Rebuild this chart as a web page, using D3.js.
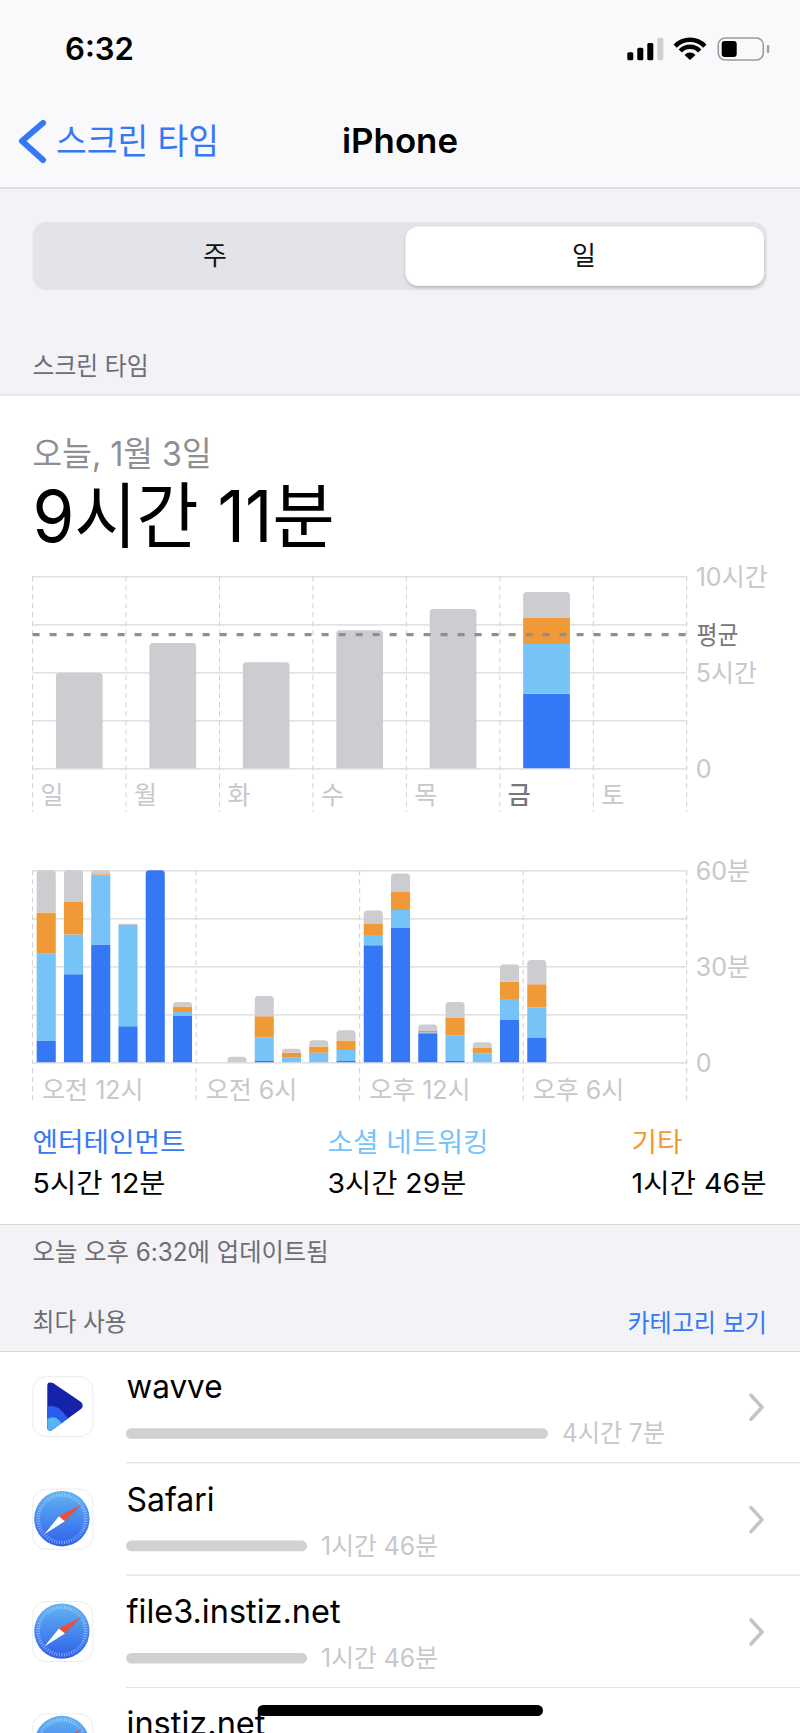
<!DOCTYPE html>
<html lang="ko">
<head>
<meta charset="utf-8">
<script src="https://cdn.jsdelivr.net/npm/d3@7"></script>
<style>
html,body{margin:0;padding:0;background:#fff;overflow:hidden}
svg{display:block}
text{font-family:Inter,"Noto Sans CJK KR",sans-serif}
.axis text{font-family:Inter,"Noto Sans CJK KR",sans-serif;font-size:25px;fill:#c7c7cc}
.axis .domain{display:none}
.axis line{stroke:#d9d9dc;stroke-width:1.2}
</style>
</head>
<body>
<script>
// 색
var blue="#3478f6",sky="#76c3f7",orange="#f09a37",gray="#cdcdd1";
var seriesKeys=["entertainment","social","other","rest"];
var seriesColors=[blue,sky,orange,gray];

// 요일별 (시간)
var days=["일","월","화","수","목","금","토"];
var dayEntertainment=[0,0,0,0,0,3.88,0];
var daySocial=[0,0,0,0,0,2.59,0];
var dayOther=[0,0,0,0,0,1.36,0];
var dayRest=[4.98,6.53,5.52,7.19,8.3,1.35,0];
var dayAverage=6.96;
var dayTicks=[0,2.5,5,7.5,10];
var dayTickLabels={0:"0",5:"5시간",10:"10시간"};

// 시간대별 (분)
var hourEntertainment=[6.8,27.5,36.8,11.25,60,14.6,0,0,0.4,0,0,0.4,36.6,42,9.06,0.4,0,13.2,7.6,0,0,0,0,0];
var hourSocial=[27.1,12.4,21.5,31.65,0,1.1,0,0,7.4,1.45,3,3.45,3.2,5.6,0.34,8,2.8,6.6,9.5,0,0,0,0,0];
var hourOther=[12.9,10.2,0.45,0,0,1.7,0,0,6.6,1.55,1.9,2.95,3.4,5.6,0.4,5.45,1.7,5.4,7.3,0,0,0,0,0];
var hourRest=[13.2,9.9,1.25,0.4,0,1.45,0,1.77,6.3,1.2,2,3.2,4.2,5.8,2,5,1.75,5.4,7.6,0,0,0,0,0];
var hourTicks=[0,15,30,45,60];
var hourTickLabels={0:"0",30:"30분",60:"60분"};
var hourLabels={0:"오전 12시",6:"오전 6시",12:"오후 12시",18:"오후 6시"};

// 범주 합계
var legendNames=["엔터테인먼트","소셜 네트워킹","기타"];
var legendTimes=["5시간 12분","3시간 29분","1시간 46분"];

// 최다 사용
var appNames=["wavve","Safari","file3.instiz.net","instiz.net"];
var appMinutes=[247,106,106,null];
var appTimes=["4시간 7분","1시간 46분","1시간 46분",""];

var w=800,h=1733;
var svg=d3.select("body").append("svg").attr("width",w).attr("height",h);

var label=function(x,y,t,size,color,opt){
	opt=opt||{};
	var n=svg.append("text").attr("x",x).attr("y",y).text(t)
	.attr("font-size",size).attr("fill",color)
	.attr("font-weight",opt.weight||400)
	.attr("text-anchor",opt.anchor||"start");
	if(opt.len){
		n.attr("textLength",opt.len).attr("lengthAdjust","spacingAndGlyphs");
	}
	return n;
}

// 위쪽만 둥근 막대
var barPath=function(x,y0,y1,bw,r){
	var p=d3.path();
	r=Math.min(r,Math.abs(y0-y1));
	p.moveTo(x,y0);
	p.lineTo(x,y1+r);
	p.quadraticCurveTo(x,y1,x+r,y1);
	p.lineTo(x+bw-r,y1);
	p.quadraticCurveTo(x+bw,y1,x+bw,y1+r);
	p.lineTo(x+bw,y0);
	p.closePath();
	return p.toString();
}

// 배경
svg.append("rect").attr("width",w).attr("height",188).attr("fill","#f9f9fb");
svg.append("rect").attr("y",188).attr("width",w).attr("height",207).attr("fill","#f2f2f7");
svg.append("rect").attr("y",1224).attr("width",w).attr("height",127).attr("fill","#f2f2f7");
[[188,"#c9c9cd"],[395,"#d8d8dc"],[1224.5,"#d8d8dc"],[1351.5,"#d8d8dc"]].forEach(function(d){
	svg.append("line").attr("x1",0).attr("x2",w).attr("y1",d[0]).attr("y2",d[0])
	.attr("stroke",d[1]).attr("stroke-width",1.2);
});

// 상태바
label(65,60,"6:32",31,"#000",{weight:600,len:69});
[[627.3,52.3,"#000"],[637.3,47.7,"#000"],[647.3,43,"#000"],[657.3,37.7,"#d0d0d2"]].forEach(function(d){
	svg.append("rect").attr("x",d[0]).attr("y",d[1]).attr("width",6).attr("height",60.3-d[1])
	.attr("rx",1.5).attr("fill",d[2]);
});
[[0,7.5],[11,15.5],[18,22.5]].forEach(function(d){
	svg.append("path").attr("transform","translate(690,60)")
	.attr("d",d3.arc()({innerRadius:d[0],outerRadius:d[1],startAngle:-0.82,endAngle:0.82}))
	.attr("fill","#000");
});
svg.append("rect").attr("x",718.3).attr("y",38).attr("width",45).attr("height",22).attr("rx",7)
.attr("fill","none").attr("stroke","#9b9b9f").attr("stroke-width",1.6);
svg.append("rect").attr("x",721.7).attr("y",41).attr("width",15).attr("height",16).attr("rx",3).attr("fill","#000");
svg.append("rect").attr("x",766.8).attr("y",45).attr("width",2.5).attr("height",8).attr("rx",1.2).attr("fill","#a0a0a4");

// 내비게이션
svg.append("path").attr("d",d3.line()([[43,123],[22,141],[43,160]]))
.attr("fill","none").attr("stroke",blue).attr("stroke-width",6).attr("stroke-linecap","round").attr("stroke-linejoin","round");
label(56,154,"스크린 타임",35,blue,{len:163});
label(342,153,"iPhone",34,"#000",{weight:600,len:116});

// 세그먼트
svg.append("defs").append("filter").attr("id","segshadow")
.append("feDropShadow").attr("dx",0).attr("dy",2).attr("stdDeviation",1.5)
.attr("flood-color","#000").attr("flood-opacity",0.18);
svg.append("rect").attr("x",32.6).attr("y",222).attr("width",734.4).attr("height",68).attr("rx",14).attr("fill","#e3e3e8");
svg.append("rect").attr("x",405.6).attr("y",226.4).attr("width",358.4).attr("height",59.3).attr("rx",13).attr("fill","#fff")
.attr("filter","url(#segshadow)");
label(215,265,"주",26,"#111",{anchor:"middle"});
label(584,265,"일",26,"#111",{anchor:"middle"});

label(32.6,375,"스크린 타임",25,"#6d6d72",{len:116});
label(32.6,466,"오늘, 1월 3일",34,"#8e8e93",{len:179});
label(32.6,542,"9시간 11분",72,"#000",{len:302});

// 차트 공통
var chartLeft=32.6,chartRight=686.7,chartHeight=192;

var drawChart=function(cfg){
	var x=d3.scaleBand().domain(d3.range(cfg.n)).range([chartLeft,chartRight]).paddingInner(0).paddingOuter(0);
	var y=d3.scaleLinear().domain([0,cfg.max]).range([cfg.bottom,cfg.bottom-chartHeight]);
	var line=d3.scaleLinear().domain([0,cfg.lines]).range([chartLeft,chartRight]);

	// 세로 점선
	svg.append("g").selectAll("line").data(d3.range(cfg.lines+1)).enter().append("line")
	.attr("x1",function(d){return line(d)}).attr("x2",function(d){return line(d)})
	.attr("y1",cfg.bottom-chartHeight).attr("y2",cfg.lineEnd)
	.attr("stroke","#cfcfd2").attr("stroke-width",1).attr("stroke-dasharray","5,4");

	// 오른쪽 축 + 가로 격자
	var ya=svg.append("g").attr("class","axis").attr("transform","translate("+chartRight+",0)")
	.call(d3.axisRight(y).tickValues(cfg.ticks).tickSize(-(chartRight-chartLeft)).tickPadding(9)
	.tickFormat(function(d){return cfg.tickLabels[d]||""}));
	ya.selectAll("text").attr("dy","0.35em");

	// 아래 축
	var xa=svg.append("g").attr("class","axis").attr("transform","translate(0,"+cfg.bottom+")")
	.call(d3.axisBottom(x).tickValues(cfg.labelIndex).tickSize(0).tickFormat(function(d){return cfg.names[d]}));
	xa.selectAll("text").attr("text-anchor","start")
	.attr("x",-x.bandwidth()/2+cfg.labelPad).attr("y",cfg.labelY).attr("dy","0.35em")
	.attr("style",function(d){return d===cfg.hot?"fill:#77777b;font-weight:500":null});

	// 막대
	var rows=d3.range(cfg.n).map(function(i){
		var r={};
		seriesKeys.forEach(function(k,j){r[k]=cfg.values[j][i]});
		return r;
	});
	var stack=d3.stack().keys(seriesKeys)(rows);
	var bw=x.bandwidth()*cfg.barShare;
	stack.forEach(function(s,j){
		svg.append("g").attr("fill",seriesColors[j]).selectAll("path")
		.data(s.map(function(d,i){return {i:i,v0:d[0],v1:d[1],total:d3.sum(cfg.values,function(a){return a[i]})}}))
		.enter().append("path")
		.filter(function(d){return d.v1>d.v0})
		.attr("d",function(d){
			var bx=x(d.i)+(x.bandwidth()-bw)/2;
			var top=Math.abs(d.v1-d.total)<1e-6;
			return barPath(bx,y(d.v0),y(d.v1),bw,top?cfg.radius:0);
		});
	});
	return y;
}

var yDay=drawChart({n:7,lines:7,max:10,bottom:768.3,lineEnd:812,ticks:dayTicks,tickLabels:dayTickLabels,
	labelIndex:d3.range(7),names:days,labelPad:8,labelY:27,hot:5,barShare:0.5,radius:3.5,
	values:[dayEntertainment,daySocial,dayOther,dayRest]});

// 평균선
svg.append("line").attr("x1",chartLeft).attr("x2",chartRight+2).attr("y1",yDay(dayAverage)).attr("y2",yDay(dayAverage))
.attr("stroke","#8e8e93").attr("stroke-width",3.4).attr("stroke-dasharray","7,10");
label(696.4,yDay(dayAverage)+9,"평균",25,"#77777b",{len:42});

drawChart({n:24,lines:4,max:60,bottom:1062.3,lineEnd:1103,ticks:hourTicks,tickLabels:hourTickLabels,
	labelIndex:[0,6,12,18],names:hourLabels,labelPad:9.5,labelY:28,hot:-1,barShare:0.7,radius:3.5,
	values:[hourEntertainment,hourSocial,hourOther,hourRest]});

// 범주
var legendX=[32.6,327.5,631.6];
var legendColors=[blue,sky,orange];
var legendLen=[153,161,51];
var timeLen=[133,139,135];
legendNames.forEach(function(d,i){
	label(legendX[i],1152,d,27,legendColors[i],{len:legendLen[i]});
	label(legendX[i],1193,legendTimes[i],27,"#000",{len:timeLen[i]});
});

label(32.6,1261,"오늘 오후 6:32에 업데이트됨",25,"#6d6d72",{len:296});
label(32.6,1331,"최다 사용",25,"#6d6d72",{len:94});
label(767,1332,"카테고리 보기",25,blue,{anchor:"end",len:139.5});

// 앱 목록
var rowStep=112.4,rowTop=1376.7;
var appBar=d3.scaleLinear().domain([0,247]).range([0,422]);

svg.append("defs").append("linearGradient").attr("id","safari").attr("x1",0).attr("x2",0).attr("y1",0).attr("y2",1)
.selectAll("stop").data([["0%","#62b4f3"],["100%","#2e60ea"]]).enter().append("stop")
.attr("offset",function(d){return d[0]}).attr("stop-color",function(d){return d[1]});

var wavveIcon=function(g){
	var tri="M50,1382.5 Q47.3,1382 47.3,1386 L47.3,1427 Q47.3,1432 52,1430 L81,1409 Q84.5,1405.5 81,1402 L53,1383 Z";
	svg.append("defs").append("clipPath").attr("id","wavveclip").append("path").attr("d",tri);
	var c=g.append("g").attr("clip-path","url(#wavveclip)");
	c.append("rect").attr("x",45).attr("y",1380).attr("width",42).attr("height",52).attr("fill","#1523a8");
	c.append("path").attr("d","M45,1407 Q54,1404 60,1409 Q66,1415 72,1424 L72,1434 L45,1434 Z").attr("fill","#2b5cf0");
	c.append("path").attr("d","M45,1420 Q52,1416 56,1418 Q60,1420 63,1426 L50,1434 L45,1434 Z").attr("fill","#54b6ee");
}
var safariIcon=function(g,cx,cy){
	g.append("circle").attr("cx",cx).attr("cy",cy).attr("r",27.7).attr("fill","url(#safari)");
	g.append("g").selectAll("line").data(d3.range(0,360,6)).enter().append("line")
	.attr("x1",function(d){return cx+25.5*Math.cos(d*Math.PI/180)}).attr("y1",function(d){return cy+25.5*Math.sin(d*Math.PI/180)})
	.attr("x2",function(d){return cx+22*Math.cos(d*Math.PI/180)}).attr("y2",function(d){return cy+22*Math.sin(d*Math.PI/180)})
	.attr("stroke","#fff").attr("stroke-opacity",0.55).attr("stroke-width",0.8);
	g.append("path").attr("d","M"+(cx+20)+","+(cy-14.5)+" L"+(cx+3)+","+(cy+2.5)+" L"+(cx-3)+","+(cy-2.5)+" Z").attr("fill","#e8503a");
	g.append("path").attr("d","M"+(cx-17.5)+","+(cy+15.5)+" L"+(cx+3)+","+(cy+2.5)+" L"+(cx-3)+","+(cy-2.5)+" Z").attr("fill","#fff");
}

appNames.forEach(function(name,i){
	var top=rowTop+rowStep*i;
	var g=svg.append("g");
	g.append("rect").attr("x",32.8).attr("y",top).attr("width",60).attr("height",60).attr("rx",13)
	.attr("fill","#fff").attr("stroke","#ececee").attr("stroke-width",1);
	if(i==0){
		wavveIcon(g);
	}else{
		safariIcon(g,61.9,top+29.6);
	}
	label(126.5,top+21.5,name,33,"#000",{len:[96,88,214,139][i]});
	if(appMinutes[i]!=null){
		svg.append("rect").attr("x",126).attr("y",top+51.5).attr("width",appBar(appMinutes[i])).attr("height",10.6)
		.attr("rx",5.3).attr("fill","#d1d1d3");
		label(126+appBar(appMinutes[i])+14,top+65.5,appTimes[i],25,"#c7c7cc",{len:i==0?103:117});
		svg.append("line").attr("x1",126).attr("x2",w).attr("y1",top+86).attr("y2",top+86)
		.attr("stroke","#e2e2e4").attr("stroke-width",1.2);
		svg.append("path").attr("d",d3.line()([[751,top+18.5],[762,top+30.5],[751,top+42.5]]))
		.attr("fill","none").attr("stroke","#c4c4c7").attr("stroke-width",3.6)
		.attr("stroke-linecap","round").attr("stroke-linejoin","round");
	}
});

// 홈 인디케이터
svg.append("rect").attr("x",257.6).attr("y",1705).attr("width",285.4).attr("height",11).attr("rx",5.5).attr("fill","#000");
</script>
</body>
</html>
